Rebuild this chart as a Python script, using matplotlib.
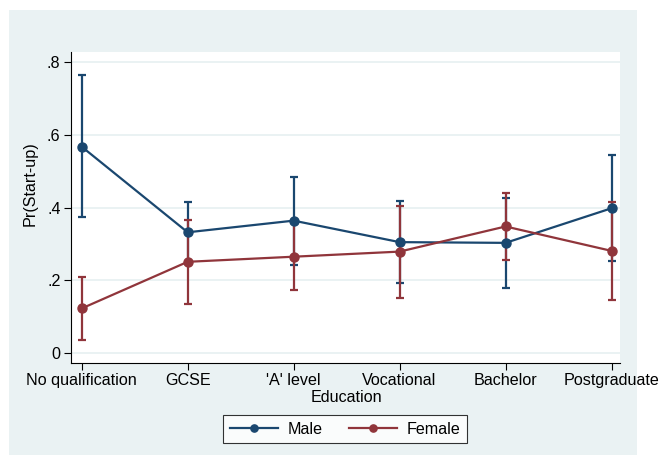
import matplotlib
matplotlib.use("Agg")
import matplotlib.pyplot as plt
from matplotlib.patches import Rectangle
import numpy as np

plt.rcParams["font.family"] = ["Liberation Sans", "DejaVu Sans"]

# Data
categories = ["No qualification", "GCSE", "'A' level", "Vocational", "Bachelor", "Postgraduate"]

male_est   = [0.567, 0.332, 0.364, 0.305, 0.303, 0.398]
male_lo    = [0.375, 0.245, 0.242, 0.192, 0.179, 0.253]
male_hi    = [0.763, 0.416, 0.483, 0.417, 0.427, 0.544]

female_est = [0.123, 0.251, 0.265, 0.279, 0.348, 0.281]
female_lo  = [0.036, 0.134, 0.173, 0.151, 0.257, 0.147]
female_hi  = [0.209, 0.366, 0.358, 0.403, 0.440, 0.415]

y_ticks  = [0, 0.2, 0.4, 0.6, 0.8]
y_labels = ["0", ".2", ".4", ".6", ".8"]

blue = "#1A476F"
red  = "#90353B"
bg   = "#EAF2F3"
fs   = 11.6

W, H = 664, 459
fig = plt.figure(figsize=(W / 100, H / 100), dpi=100)
fig.patch.set_facecolor("white")

# outer graph region
fig.patches.append(Rectangle((8.5 / W, 1 - 455 / H), (637 - 8.5) / W, (455 - 9.5) / H,
                             transform=fig.transFigure, facecolor=bg, edgecolor="none", zorder=-10))

ax = fig.add_axes([71 / W, 1 - 362.7 / H, (620 - 71) / W, (362.7 - 52) / H])
ax.set_facecolor("white")

x = np.arange(len(categories))

for est, lo, hi, c in [(male_est, male_lo, male_hi, blue), (female_est, female_lo, female_hi, red)]:
    est = np.array(est)
    yerr = [est - np.array(lo), np.array(hi) - est]
    ax.errorbar(x, est, yerr=yerr, fmt="none", ecolor=c, elinewidth=1.6,
                capsize=2.6, capthick=1.6, zorder=2)

ax.plot(x, male_est, color=blue, lw=1.6, marker="o", ms=6.5, label="Male", zorder=3)
ax.plot(x, female_est, color=red, lw=1.6, marker="o", ms=6.5, label="Female", zorder=3)

ax.set_xlim(-0.101, 5.08)
ax.set_ylim(-0.026, 0.827)
ax.set_xticks(x)
ax.set_xticklabels(categories, fontsize=fs)
ax.set_yticks(y_ticks)
ax.set_yticklabels(y_labels, fontsize=fs)
ax.tick_params(axis="both", length=5, width=0.8, color="black", pad=2.5)
ax.grid(True, axis="y", color=bg, lw=1.4, zorder=0)
ax.set_axisbelow(True)

for s in ["top", "right"]:
    ax.spines[s].set_visible(False)
for s in ["left", "bottom"]:
    ax.spines[s].set_linewidth(0.8)

fig.text(346.7 / W, 1 - 398 / H, "Education", ha="center", va="center", fontsize=fs)
fig.text(30 / W, 1 - 184 / H, "Pr(Start-up)", ha="center", va="center", rotation=90, fontsize=fs)

leg = ax.legend(loc="center", bbox_to_anchor=(345 / W, 1 - 429 / H), bbox_transform=fig.transFigure,
                ncol=2, fontsize=fs, frameon=True, fancybox=False, handlelength=3.0,
                handletextpad=0.6, columnspacing=1.6, borderpad=0.4, borderaxespad=0,
                markerscale=0.8)
leg.get_frame().set_edgecolor("black")
leg.get_frame().set_linewidth(0.8)
leg.get_frame().set_facecolor("white")

fig.savefig("out.png", dpi=100)
